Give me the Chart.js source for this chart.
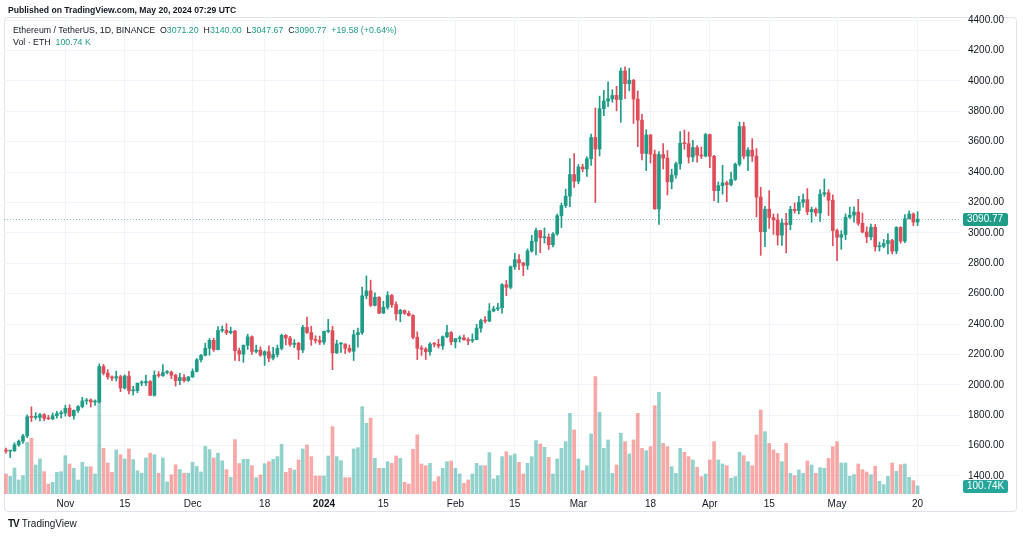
<!DOCTYPE html>
<html>
<head>
<meta charset="utf-8">
<script src="https://cdn.jsdelivr.net/npm/chart.js@4.4.1/dist/chart.umd.min.js"></script>
<style>
  html, body { margin: 0; padding: 0; background: #fff; }
  body { width: 1024px; height: 538px; position: relative; overflow: hidden;
         font-family: "Liberation Sans", Arial, sans-serif; color: #131722; }
  #frame { position: absolute; left: 4px; top: 17px; width: 1013px; height: 495px;
           border: 1px solid #e0e3eb; border-radius: 4px; box-sizing: border-box; }
  #c { position: absolute; left: 0; top: 0; }
  .pub { position: absolute; left: 8px; top: 5px; font-size: 8.6px; font-weight: bold; z-index: 2; }
  .leg { position: absolute; left: 13px; font-size: 8.8px; white-space: pre; z-index: 2; }
  .val { color: #1f9c88; }
  .foot { position: absolute; left: 8px; top: 518px; font-size: 10px; }
  .foot b { font-size: 10px; letter-spacing: -1px; margin-right: 3px; }
</style>
</head>
<body>
<div id="frame"></div>
<canvas id="c" width="1024" height="538"></canvas>
<div class="pub">Published on TradingView.com, May 20, 2024 07:29 UTC</div>
<div class="leg" style="top:25px">Ethereum / TetherUS, 1D, BINANCE  O<span class="val">3071.20</span>  H<span class="val">3140.00</span>  L<span class="val">3047.67</span>  C<span class="val">3090.77</span>  <span class="val">+19.58 (+0.64%)</span></div>
<div class="leg" style="top:37px">Vol · ETH  <span class="val">100.74 K</span></div>
<div class="foot"><b>TV</b>TradingView</div>
<script>
// ETHUSDT daily candles, Oct 18 2023 -> May 20 2024 (index 0 = Oct 18)
const opens = [
  1567,1564,1566,1605,1629,1664,1790,1786,1786,1803,
  1780,1776,1797,1810,1815,1846,1796,1832,1857,1894,
  1900,1887,1888,2121,2077,2052,2045,2054,1979,2058,
  1961,1962,2012,2013,2022,1931,2063,2061,2081,2084,
  2063,2028,2048,2028,2052,2088,2165,2194,2241,2293,
  2232,2358,2359,2343,2353,2225,2202,2260,2316,2220,
  2229,2196,2218,2176,2200,2240,2326,2308,2266,2274,
  2230,2378,2344,2299,2292,2281,2352,2356,2210,2269,
  2269,2241,2221,2330,2344,2586,2618,2523,2576,2472,
  2511,2588,2528,2467,2490,2471,2456,2313,2241,2235,
  2218,2268,2267,2256,2317,2344,2283,2304,2309,2297,
  2290,2298,2373,2423,2420,2486,2500,2507,2659,2642,
  2777,2824,2803,2786,2881,2945,3015,2968,2972,2922,
  2993,3113,3180,3242,3384,3340,3434,3421,3488,3628,
  3552,3818,3868,3883,3905,3878,4066,3982,4005,3881,
  3742,3523,3645,3518,3158,3516,3492,3336,3381,3455,
  3590,3587,3500,3562,3511,3506,3647,3504,3278,3311,
  3330,3318,3352,3452,3700,3505,3545,3505,3236,3008,
  3156,3101,3085,2985,3065,3055,3155,3147,3201,3219,
  3139,3155,3131,3255,3265,3215,3015,2971,2989,3103,
  3117,3137,3063,3006,2974,3037,2909,2912,2930,2950,
  2880,3036,2946,3093,3124,3071.20
];
const highs = [
  1584,1568,1619,1637,1674,1802,1855,1817,1812,1810,
  1799,1815,1826,1829,1866,1869,1835,1863,1918,1910,
  1908,1902,2138,2135,2100,2060,2090,2063,2066,2089,
  1991,2010,2027,2064,2028,2092,2087,2134,2093,2091,
  2070,2075,2067,2055,2105,2173,2200,2274,2305,2307,
  2384,2388,2403,2380,2359,2242,2263,2333,2323,2262,
  2250,2225,2256,2247,2262,2335,2330,2320,2298,2280,
  2392,2446,2386,2323,2321,2353,2431,2386,2294,2278,
  2270,2262,2359,2373,2644,2717,2689,2605,2581,2550,
  2613,2595,2546,2497,2493,2485,2462,2349,2258,2245,
  2278,2279,2300,2322,2392,2351,2305,2322,2328,2310,
  2336,2398,2433,2449,2535,2517,2537,2666,2687,2783,
  2866,2857,2805,2895,2984,3032,3016,3033,2994,3002,
  3124,3196,3288,3489,3522,3450,3452,3500,3650,3822,
  3900,3939,3994,3942,3965,4086,4093,4083,4010,3934,
  3780,3680,3648,3545,3536,3588,3542,3420,3466,3667,
  3677,3664,3610,3574,3566,3655,3650,3511,3335,3445,
  3340,3400,3460,3730,3728,3561,3620,3555,3300,3175,
  3278,3125,3125,3092,3128,3175,3197,3240,3255,3292,
  3170,3165,3285,3355,3285,3250,3025,3015,3125,3170,
  3171,3221,3130,3040,3058,3055,2940,2957,2995,2958,
  3041,3041,3120,3146,3132,3140.00
];
const lows = [
  1550,1521,1561,1595,1614,1652,1758,1773,1763,1764,
  1771,1770,1781,1783,1794,1790,1774,1818,1848,1872,
  1854,1864,1880,2065,2037,2028,2025,1955,1972,1941,
  1932,1948,1994,1994,1930,1925,2049,2056,2072,2040,
  1992,2001,2018,2023,2049,2085,2151,2190,2195,2220,
  2229,2347,2330,2335,2160,2158,2148,2233,2200,2210,
  2188,2128,2152,2164,2183,2230,2263,2255,2245,2167,
  2212,2338,2260,2275,2265,2266,2343,2100,2207,2213,
  2206,2213,2160,2248,2331,2566,2515,2520,2468,2470,
  2498,2509,2426,2415,2463,2453,2302,2166,2194,2167,
  2195,2250,2242,2233,2311,2264,2243,2281,2293,2264,
  2279,2296,2347,2408,2415,2480,2488,2472,2587,2632,
  2760,2758,2719,2760,2873,2855,2870,2933,2891,2908,
  2984,3035,3167,3172,3300,3323,3403,3372,3444,3200,
  3507,3772,3830,3860,3803,3728,3884,3935,3720,3568,
  3480,3410,3460,3156,3056,3420,3250,3290,3360,3420,
  3550,3460,3468,3465,3489,3500,3430,3212,3200,3255,
  3205,3310,3345,3440,3487,3410,3470,3105,2852,2910,
  3030,2990,2920,2917,2868,3020,3130,3125,3170,3120,
  3070,3110,3075,3240,3115,2915,2817,2892,2956,3095,
  3070,3050,3000,2935,2953,2880,2880,2902,2862,2862,
  2863,2932,2935,3092,3047,3047.67
];
const closes = [
  1564,1566,1605,1629,1664,1790,1786,1786,1803,1780,
  1776,1797,1810,1815,1846,1796,1832,1857,1894,1900,
  1887,1888,2121,2077,2052,2045,2054,1979,2058,1961,
  1962,2012,2013,2022,1931,2063,2061,2081,2084,2063,
  2028,2048,2028,2052,2088,2165,2194,2241,2293,2232,
  2358,2359,2343,2353,2225,2202,2260,2316,2220,2229,
  2196,2218,2176,2200,2240,2326,2308,2266,2274,2230,
  2378,2344,2299,2292,2281,2352,2356,2210,2269,2269,
  2241,2221,2330,2344,2586,2618,2523,2576,2472,2511,
  2588,2528,2467,2490,2471,2456,2313,2241,2235,2218,
  2268,2267,2256,2317,2344,2283,2304,2309,2297,2290,
  2298,2373,2423,2420,2486,2500,2507,2659,2642,2777,
  2824,2803,2786,2881,2945,3015,2968,2972,2922,2993,
  3113,3180,3242,3384,3340,3434,3421,3488,3628,3552,
  3818,3868,3883,3905,3878,4066,3982,4005,3881,3742,
  3523,3645,3518,3158,3516,3492,3336,3381,3455,3590,
  3587,3500,3562,3511,3506,3647,3504,3278,3311,3330,
  3318,3352,3452,3700,3505,3545,3505,3236,3008,3156,
  3101,3085,2985,3065,3055,3155,3147,3201,3219,3139,
  3155,3131,3255,3265,3215,3015,2971,2989,3103,3117,
  3137,3063,3006,2974,3037,2909,2912,2930,2950,2880,
  3036,2946,3093,3124,3071.20,3090.77
];
// volume in thousands of ETH
const volumes = [
  250,220,325,175,229,646,696,363,438,279,
  125,146,271,279,479,375,321,175,396,341,
  341,250,1563,571,388,271,550,491,438,563,
  430,290,260,450,510,490,260,450,150,240,
  365,305,260,260,395,345,275,595,555,450,
  510,415,305,210,680,380,433,433,354,204,
  238,379,404,433,467,621,271,321,300,425,
  563,613,467,225,225,225,475,842,467,417,
  204,204,563,579,1092,883,946,446,321,321,
  404,383,475,446,146,125,558,738,375,354,
  383,154,217,321,404,413,321,250,133,175,
  250,383,354,354,517,188,229,467,529,479,
  500,396,250,383,467,667,625,583,458,250,
  438,571,654,1008,800,438,292,354,750,1467,
  1021,571,675,258,363,758,654,500,675,1008,
  571,542,592,1104,1271,633,592,342,258,571,
  521,467,425,333,217,250,425,654,425,375,
  354,196,217,521,479,404,354,738,1050,779,
  633,550,508,404,633,258,229,300,258,413,
  363,258,329,321,446,592,654,388,388,221,
  242,375,304,275,242,346,158,117,221,388,
  283,367,375,208,167,100.74
];

// x axis labels (day index -> text)
const tickDays   = [14, 28, 44, 61, 75, 89, 106, 120, 135, 152, 166, 180, 196, 215];
const tickLabels = ['Nov', '15', 'Dec', '18', '2024', '15', 'Feb', '15', 'Mar', '18', 'Apr', '15', 'May', '20'];
const priceTicks = [1400, 1600, 1800, 2000, 2200, 2400, 2600, 2800, 3000, 3200, 3400, 3600, 3800, 4000, 4200, 4400];

const UP = '#1f9c88', DOWN = '#e04c58';
const UP_VOL = 'rgba(38,166,154,0.5)', DOWN_VOL = 'rgba(239,83,80,0.5)';
const GRID = '#f0f3fa';

const lastClose = closes[closes.length - 1];
const lastVol = volumes[volumes.length - 1];
const isUp = closes.map((c, i) => c >= opens[i]);

function tag(ctx, x, yc, text, color) {
  ctx.fillStyle = color;
  ctx.beginPath();
  ctx.roundRect(x, Math.round(yc) - 6, 45, 13, 2);
  ctx.fill();
  ctx.fillStyle = '#fff';
  ctx.font = '10px "Liberation Sans", Arial, sans-serif';
  ctx.textBaseline = 'middle';
  ctx.textAlign = 'left';
  ctx.fillText(text, x + 4, Math.round(yc) + 0.5);
}

const overlay = {
  id: 'overlay',
  beforeDatasetsDraw(chart) {
    const { ctx, chartArea: a, scales } = chart;
    const py = Math.round(scales.y.getPixelForValue(lastClose)) + 0.5;
    ctx.save();
    ctx.strokeStyle = 'rgba(31,156,136,0.55)';
    ctx.lineWidth = 1;
    ctx.setLineDash([1, 2]);
    ctx.beginPath();
    ctx.moveTo(a.left, py);
    ctx.lineTo(a.right, py);
    ctx.stroke();
    ctx.restore();
  },
  afterDraw(chart) {
    const { ctx, chartArea: a, scales } = chart;
    ctx.save();
    tag(ctx, a.right + 3, scales.y.getPixelForValue(lastClose), lastClose.toFixed(2), UP);
    tag(ctx, a.right + 3, scales.v.getPixelForValue(lastVol), lastVol.toFixed(2) + 'K', '#26a69a');
    ctx.restore();
  }
};

new Chart(document.getElementById('c'), {
  type: 'bar',
  data: {
    datasets: [
      {
        // candle bodies
        data: opens.map((o, i) => ({ x: i, y: [o, closes[i]] })),
        backgroundColor: isUp.map(u => u ? UP : DOWN),
        barThickness: 3, minBarLength: 1, grouped: false, order: 0,
        yAxisID: 'y'
      },
      {
        // wicks
        data: lows.map((l, i) => ({ x: i, y: [l, highs[i]] })),
        backgroundColor: isUp.map(u => u ? UP : DOWN),
        barThickness: 1, grouped: false, order: 1,
        yAxisID: 'y'
      },
      {
        // volume
        data: volumes.map((v, i) => ({ x: i, y: v })),
        backgroundColor: isUp.map(u => u ? UP_VOL : DOWN_VOL),
        barThickness: 3, grouped: false, order: 3,
        yAxisID: 'v'
      }
    ]
  },
  options: {
    responsive: false,
    animation: false,
    layout: { padding: { top: 17, bottom: 26, left: 4, right: 7 } },
    plugins: { legend: { display: false }, tooltip: { enabled: false } },
    scales: {
      x: {
        type: 'linear',
        offset: false,
        min: -0.47, max: 225,
        afterBuildTicks: s => { s.ticks = tickDays.map(v => ({ value: v })); },
        afterFit: s => { s.height = 18; },
        ticks: {
          autoSkip: false, maxRotation: 0, padding: 4,
          color: '#131722',
          callback: v => tickLabels[tickDays.indexOf(v)],
          font: c => ({ size: 10, family: '"Liberation Sans", Arial, sans-serif',
                        weight: c.tick && c.tick.label === '2024' ? 'bold' : 'normal' })
        },
        grid: { color: GRID, drawTicks: false, offset: false },
        border: { display: false }
      },
      y: {
        position: 'right',
        min: 1281.5, max: 4421,
        afterBuildTicks: s => { s.ticks = priceTicks.map(v => ({ value: v })); },
        afterFit: s => { s.width = 57; },
        ticks: {
          padding: 8, color: '#131722',
          callback: v => v.toFixed(2),
          font: { size: 10, family: '"Liberation Sans", Arial, sans-serif' }
        },
        grid: { color: GRID, drawTicks: false },
        border: { display: false }
      },
      v: {
        display: false,
        position: 'left',
        min: 0, max: 5960
      }
    }
  },
  plugins: [overlay]
});
</script>
</body>
</html>
